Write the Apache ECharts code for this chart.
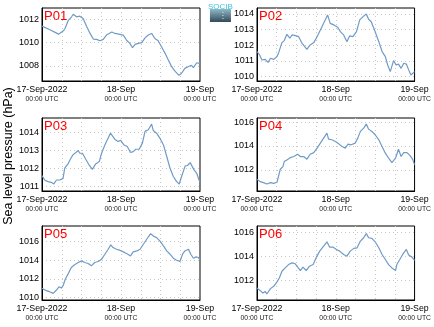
<!DOCTYPE html>
<html>
<head>
<meta charset="utf-8">
<script src="https://cdn.jsdelivr.net/npm/echarts@6/dist/echarts.min.js"></script>
<style>
  html, body { margin: 0; padding: 0; background: #fff; }
  #chart { width: 434px; height: 327px; }
</style>
</head>
<body>
<div id="chart"></div>
<script>
// Sea level pressure at six points, 17-Sep-2022 00:00 UTC to 19-Sep 00:00 UTC.
// Time is in hours since 17-Sep-2022 00:00 UTC.
const stationNames = ['P01', 'P02', 'P03', 'P04', 'P05', 'P06'];
const tickLabels = { 0: '17-Sep-2022', 24: '18-Sep', 48: '19-Sep' };
const tickSubLabel = '00:00 UTC';

const hoursP01 = [0, 2.4, 4, 5, 6.5, 7, 7.5, 8, 9, 9.5, 10.5, 11.5, 12.5, 13.6, 14.6, 15.6, 16.6, 17.6, 18.6, 19.6, 21.2, 21.7, 22.2, 23.7, 24.7, 25.7, 26.7, 27.5, 28.3, 29.3, 30.3, 31.3, 32.3, 33.3, 34.3, 35.3, 36.3, 37.4, 38.4, 39.4, 40.4, 41.6, 42.4, 43.4, 44.4, 45.4, 46, 47, 48];
const pressureP01 = [1011.4, 1011.1, 1010.87, 1010.72, 1011.0, 1011.2, 1011.35, 1011.9, 1012.2, 1012.42, 1012.2, 1012.25, 1012.05, 1011.35, 1010.78, 1010.3, 1010.27, 1010.16, 1010.27, 1010.64, 1010.9, 1011.0, 1010.78, 1010.7, 1010.64, 1010.2, 1009.93, 1009.56, 1009.84, 1009.93, 1009.99, 1010.4, 1010.64, 1010.78, 1010.35, 1010.16, 1009.65, 1009.08, 1008.5, 1007.94, 1007.57, 1007.2, 1007.38, 1007.8, 1007.94, 1008.06, 1007.86, 1008.28, 1008.2];

const hoursP02 = [0, 0.8, 1.5, 2.5, 3.4, 4.1, 5.1, 6.1, 6.6, 7.6, 8.3, 9.1, 10, 10.7, 11.7, 12.7, 13.7, 15.2, 16.2, 17.3, 18.3, 19.3, 20.3, 21.5, 22.3, 23.4, 24.6, 25.4, 26.4, 27.4, 28.2, 29.2, 30.3, 31.3, 32.3, 33.3, 34, 34.8, 35.8, 37.1, 38.1, 39.1, 39.8, 40.6, 41.6, 42.4, 43.1, 43.9, 44.7, 45.5, 46.2, 46.9, 47.5, 48];
const pressureP02 = [1011.6, 1011.38, 1011.06, 1011.1, 1010.91, 1011.17, 1011.1, 1011.28, 1011.53, 1012.17, 1012.3, 1012.7, 1012.45, 1012.66, 1012.62, 1012.55, 1012.13, 1011.74, 1012.02, 1012.17, 1012.55, 1012.98, 1013.4, 1013.94, 1013.4, 1013.3, 1013.15, 1012.87, 1012.66, 1012.23, 1012.6, 1012.55, 1012.87, 1013.62, 1013.83, 1014.0, 1013.66, 1013.5, 1012.98, 1012.23, 1011.6, 1011.28, 1010.74, 1010.32, 1011.02, 1010.74, 1010.8, 1010.53, 1010.85, 1010.8, 1010.43, 1010.1, 1010.1, 1010.32];

const hoursP03 = [0, 0.8, 1.8, 2.8, 3.6, 4.4, 5.4, 6.4, 6.9, 7.9, 8.6, 9.4, 10.3, 11, 11.5, 12.3, 13.3, 14.3, 15.3, 16.3, 17.4, 18.1, 19.1, 20.1, 20.8, 21.4, 22.1, 23.1, 23.9, 24.9, 25.9, 26.9, 27.7, 28.5, 29.5, 30.5, 31.3, 32.3, 33.3, 33.8, 34.8, 35.8, 36.9, 37.9, 38.9, 39.9, 40.9, 41.7, 42.4, 43.5, 44.2, 45, 45.5, 46.2, 47, 47.7, 48];
const pressureP03 = [1011.61, 1011.37, 1011.28, 1011.24, 1011.15, 1011.37, 1011.37, 1011.46, 1012.02, 1012.26, 1012.52, 1012.76, 1012.89, 1013.0, 1012.85, 1012.85, 1012.52, 1012.2, 1011.96, 1012.26, 1012.39, 1012.85, 1013.31, 1013.69, 1013.96, 1014.06, 1013.63, 1013.5, 1013.56, 1013.31, 1013.22, 1012.89, 1012.94, 1013.07, 1013.07, 1013.41, 1014.06, 1014.15, 1014.46, 1014.11, 1013.96, 1013.69, 1013.31, 1012.67, 1012.02, 1011.56, 1011.28, 1011.15, 1011.56, 1012.15, 1012.17, 1012.33, 1012.39, 1011.93, 1011.74, 1011.37, 1011.28];

const hoursP04 = [0, 1, 2, 3, 4.1, 5.1, 6.1, 6.6, 7.1, 7.9, 8.3, 9.1, 10.2, 11.2, 12.4, 13.2, 14.2, 15.2, 16.2, 17.3, 18.3, 19.3, 20.3, 21.3, 21.8, 22.8, 23.9, 24.9, 25.9, 26.9, 27.7, 28.7, 29.9, 30.7, 31.5, 32.5, 33.3, 34, 35, 36, 37.1, 38.1, 39.1, 40.1, 41.1, 42.2, 42.6, 43.1, 43.9, 44.7, 45.7, 46.7, 47.5, 48];
const pressureP04 = [1011.22, 1011.02, 1010.94, 1010.83, 1010.94, 1010.88, 1010.97, 1011.02, 1012.06, 1012.28, 1012.7, 1012.84, 1013.03, 1013.12, 1013.31, 1013.12, 1013.12, 1012.9, 1013.31, 1013.45, 1013.82, 1014.24, 1014.66, 1015.08, 1014.57, 1014.52, 1014.38, 1014.18, 1013.96, 1013.82, 1014.15, 1014.1, 1014.24, 1014.66, 1015.22, 1015.5, 1015.83, 1015.41, 1015.22, 1014.94, 1014.52, 1013.96, 1013.4, 1012.98, 1012.62, 1012.98, 1013.12, 1013.73, 1013.12, 1013.45, 1013.45, 1013.17, 1012.84, 1012.42];

const hoursP05 = [0, 1.3, 2.3, 3.4, 3.9, 4.4, 5.2, 5.9, 6.4, 7.1, 7.9, 8.9, 9.9, 11, 12, 13, 14, 15, 16, 17.1, 18.1, 19.1, 20.1, 20.9, 21.6, 22.6, 23.6, 24.7, 25.7, 26.9, 27.7, 28.8, 29.8, 30.8, 31.8, 33, 33.8, 34.8, 35.8, 36.9, 37.9, 38.9, 39.9, 40.9, 41.9, 42.7, 43.4, 44.5, 45.2, 46, 46.8, 47.5, 48];
const pressureP05 = [1011.0, 1010.75, 1010.64, 1010.46, 1010.46, 1010.82, 1011.17, 1011.03, 1011.28, 1011.99, 1012.52, 1013.23, 1013.52, 1013.76, 1013.94, 1013.76, 1013.66, 1013.41, 1013.76, 1013.87, 1014.12, 1014.65, 1015.18, 1015.65, 1015.36, 1015.18, 1015.08, 1014.9, 1014.72, 1014.47, 1014.9, 1015.0, 1015.18, 1015.72, 1016.25, 1016.85, 1016.6, 1016.43, 1016.07, 1015.54, 1015.0, 1014.65, 1014.22, 1014.01, 1013.87, 1014.65, 1015.0, 1015.18, 1014.65, 1014.22, 1014.37, 1014.3, 1014.01];

const hoursP06 = [0, 1, 1.8, 2.5, 3, 4.1, 5.1, 6.1, 6.8, 7.6, 8.6, 9.6, 10.7, 11.5, 12.2, 13.2, 14, 15, 16, 17.1, 18.1, 19.1, 20.3, 21.3, 22.1, 23.1, 24.2, 25.2, 26.4, 27.4, 28.4, 29.5, 30.5, 31.5, 32.5, 33.3, 34, 35, 36, 37.1, 38.1, 39.1, 40.1, 41.1, 42.2, 42.6, 43.5, 44.5, 45.5, 46.2, 47.2, 48];
const pressureP06 = [1011.38, 1011.16, 1010.97, 1011.1, 1010.88, 1011.33, 1011.52, 1011.89, 1012.22, 1012.78, 1013.06, 1013.34, 1013.48, 1013.43, 1013.2, 1012.84, 1013.12, 1012.84, 1013.2, 1013.34, 1013.96, 1014.46, 1014.88, 1015.24, 1014.8, 1014.8, 1014.6, 1014.46, 1014.18, 1014.04, 1014.46, 1014.69, 1014.74, 1015.3, 1015.58, 1015.92, 1015.58, 1015.52, 1015.24, 1014.74, 1014.18, 1013.76, 1013.34, 1013.06, 1012.84, 1013.34, 1013.76, 1014.24, 1014.6, 1014.13, 1013.96, 1013.68];

// y-axis extent and tick step for each panel
const yMin = [1006.72, 1009.72, 1010.76, 1010.24, 1009.75, 1010.38];
const yMax = [1012.95, 1014.38, 1014.8, 1016.34, 1017.67, 1016.56];
const yStep = [2, 1, 1, 2, 2, 2];

const allHours = [hoursP01, hoursP02, hoursP03, hoursP04, hoursP05, hoursP06];
const allPressure = [pressureP01, pressureP02, pressureP03, pressureP04, pressureP05, pressureP06];

const FONT = '"Liberation Sans", Arial, sans-serif';
const LINE_COLOR = '#6f9bc6';
const GRID_COLOR = '#c8c8c8';

// panel frames: two columns, three rows
const colLeft = [42, 257];
const rowTop = [8, 118, 226];
const panelW = 158;
const panelH = [73, 73, 74];

const isStep = (v, step) => Math.abs(v / step - Math.round(v / step)) < 1e-6;

const dottedGrid = {
  show: true, showMinLine: false, showMaxLine: false,
  lineStyle: { color: GRID_COLOR, type: [1, 3], width: 1 }
};

const grids = [], xAxes = [], yAxes = [], series = [], titles = [];

stationNames.forEach((name, i) => {
  const col = i % 2, row = Math.floor(i / 2);
  grids.push({
    left: colLeft[col], top: rowTop[row], width: panelW, height: panelH[row],
    show: true, borderColor: '#000', borderWidth: 1, backgroundColor: 'transparent'
  });
  xAxes.push({
    gridIndex: i, type: 'value', min: 0, max: 48, interval: 6,
    axisLine: { show: true, lineStyle: { color: '#000', width: 1 } },
    axisTick: { show: false },
    splitLine: dottedGrid,
    axisLabel: {
      margin: 3, fontFamily: FONT, color: '#000',
      showMinLabel: true, showMaxLabel: true,
      formatter: v => tickLabels[v] ? '{a|' + tickLabels[v] + '}\n{b|' + tickSubLabel + '}' : '',
      rich: {
        a: { fontSize: 8.8, fontFamily: FONT, color: '#000', lineHeight: 11 },
        b: { fontSize: 6.8, fontFamily: FONT, color: '#222', lineHeight: 9 }
      }
    }
  });
  // ticks land on multiples of the step; min/max are the frame edges
  yAxes.push({
    gridIndex: i, type: 'value', min: yMin[i], max: yMax[i],
    splitNumber: Math.round((yMax[i] - yMin[i]) / yStep[i]),
    axisLine: { show: true, lineStyle: { color: '#000', width: 1 } },
    axisTick: { show: false },
    splitLine: dottedGrid,
    axisLabel: {
      margin: 3, fontSize: 9, fontFamily: FONT, color: '#000',
      showMinLabel: false, showMaxLabel: false,
      formatter: v => (isStep(v, yStep[i]) ? String(Math.round(v)) : '')
    }
  });
  series.push({
    type: 'line', xAxisIndex: i, yAxisIndex: i,
    data: allHours[i].map((h, k) => [h, allPressure[i][k]]),
    showSymbol: false, smooth: false, animation: false,
    lineStyle: { color: LINE_COLOR, width: 1.2 }
  });
  titles.push({
    text: name, left: colLeft[col] + 2, top: rowTop[row] + 2, padding: 0,
    textStyle: { color: '#ff0000', fontSize: 13, fontWeight: 'normal', fontFamily: FONT }
  });
});

const chart = echarts.init(document.getElementById('chart'), null, { renderer: 'canvas' });
chart.setOption({
  animation: false,
  backgroundColor: '#fff',
  title: titles,
  grid: grids,
  xAxis: xAxes,
  yAxis: yAxes,
  series: series,
  graphic: [
    {
      // shared y-axis caption
      type: 'text', x: 9, y: 156, rotation: Math.PI / 2,
      style: {
        text: 'Sea level pressure (hPa)', fontSize: 12.5, fontFamily: FONT,
        fill: '#000', align: 'center', verticalAlign: 'middle'
      }
    },
    {
      // SOCIB badge
      type: 'group', left: 208, top: 3,
      children: [
        {
          type: 'rect', shape: { x: 0, y: 6, width: 21, height: 13 },
          style: {
            fill: new echarts.graphic.LinearGradient(0, 0, 0, 1, [
              { offset: 0, color: '#8fb9c6' },
              { offset: 1, color: '#34495a' }
            ])
          }
        },
        {
          type: 'line', shape: { x1: 13, y1: 9, x2: 13, y2: 18 },
          style: { stroke: '#dfe8ee', lineWidth: 1, lineDash: [1, 2] }
        },
        {
          type: 'text', x: 10.5, y: 0,
          style: {
            text: 'SOCIB', fontSize: 8, fontFamily: FONT, fill: '#3cc3df',
            align: 'center', verticalAlign: 'top'
          }
        }
      ]
    }
  ]
});
</script>
</body>
</html>
